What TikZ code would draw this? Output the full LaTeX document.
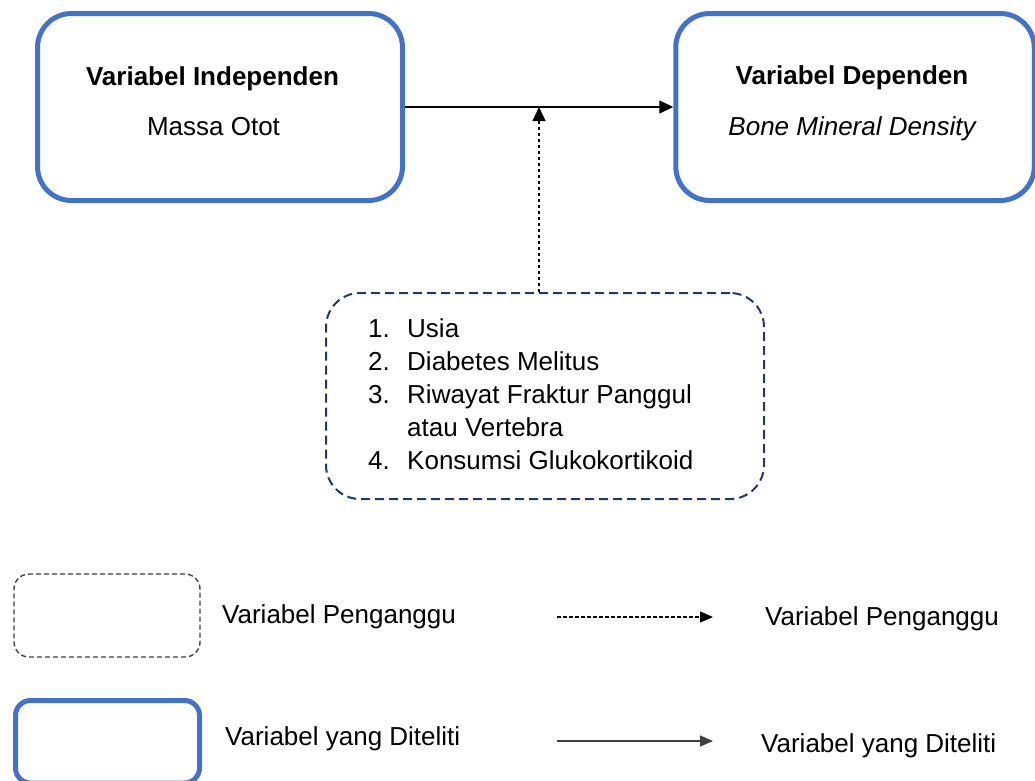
\documentclass[tikz,border=0pt]{standalone}
\usepackage{fontspec}
\setmainfont{Liberation Sans}
\usetikzlibrary{arrows.meta}
\definecolor{boxblue}{HTML}{4472C4}
\definecolor{navy}{HTML}{203864}
\definecolor{dgray}{HTML}{404040}
\tikzset{
  mainbox/.style={draw=boxblue, line width=5pt, rounded corners=34pt, inner sep=0pt, fill=white},
  confbox/.style={draw=navy, line width=2pt, rounded corners=34pt, inner sep=0pt, dash pattern=on 9pt off 5pt},
  legdash/.style={draw=dgray, line width=1.4pt, rounded corners=15pt, inner sep=0pt, dash pattern=on 5pt off 3pt},
  legblue/.style={draw=boxblue, line width=5pt, rounded corners=15pt, inner sep=0pt},
  txt/.style={font=\fontsize{26}{31}\selectfont, inner sep=0pt, anchor=base},
  ltxt/.style={font=\fontsize{26}{31}\selectfont, inner sep=0pt, anchor=base west},
  conn/.style={line width=1.3pt, -{Triangle[length=14pt,width=13pt]}},
  dconn/.style={line width=1.5pt, dash pattern=on 3.5pt off 2.5pt, -{Triangle[length=14pt,width=13pt]}},
  lconn/.style={line width=1.3pt, draw=dgray, -{Triangle[length=13pt,width=11pt]}},
  ldconn/.style={line width=1.3pt, dash pattern=on 4pt off 2pt, -{Triangle[length=13pt,width=11pt]}},
}
\begin{document}
\begin{tikzpicture}[x=1pt, y=-1pt]
\useasboundingbox (0,0) rectangle (1035,780);
% main boxes
\node[mainbox, minimum width=365pt, minimum height=187pt] (lbox) at (220,107) {};
\node[mainbox, minimum width=358.5pt, minimum height=187pt] (rbox) at (855,107) {};
\node[txt] (ltitle) at (212.5,85) {\bfseries Variabel Independen};
\node[txt] (lsub) at (213.5,135) {Massa Otot};
\node[txt] (rtitle) at (852,84) {\bfseries Variabel Dependen};
\node[txt] (rsub) at (852,135) {\itshape Bone Mineral Density};
% confounder box
\node[confbox, minimum width=438pt, minimum height=206pt] (cbox) at (545,396) {};
\node[ltxt] (i1) at (368,337) {\makebox[39pt][l]{1.}Usia};
\node[ltxt] (i2) at (368,370) {\makebox[39pt][l]{2.}Diabetes Melitus};
\node[ltxt] (i3) at (368,403) {\makebox[39pt][l]{3.}Riwayat Fraktur Panggul};
\node[ltxt] (i3b) at (407,436) {atau Vertebra};
\node[ltxt] (i4) at (368,469) {\makebox[39pt][l]{4.}Konsumsi Glukokortikoid};
% connectors
\draw[conn] (lbox.east) -- (rbox.west);
\coordinate (m) at (539,107);
\draw[dconn] (m |- cbox.north) -- (m);
% legend
\node[legdash, minimum width=186pt, minimum height=83pt] (lg1) at (107,615.5) {};
\node[legblue, minimum width=184pt, minimum height=82.5pt] (lg2) at (107.5,741.75) {};
\node[ltxt] (lt1) at (222,623) {Variabel Penganggu};
\node[ltxt] (lt2) at (225,745) {Variabel yang Diteliti};
\coordinate (a1s) at (557,617);
\coordinate (a1e) at (713,617);
\coordinate (a2s) at (557,741);
\coordinate (a2e) at (713,741);
\draw[ldconn] (a1s) -- (a1e);
\draw[lconn] (a2s) -- (a2e);
\node[ltxt] (lt3) at (765,625) {Variabel Penganggu};
\node[ltxt] (lt4) at (761,752) {Variabel yang Diteliti};
\end{tikzpicture}
\end{document}
